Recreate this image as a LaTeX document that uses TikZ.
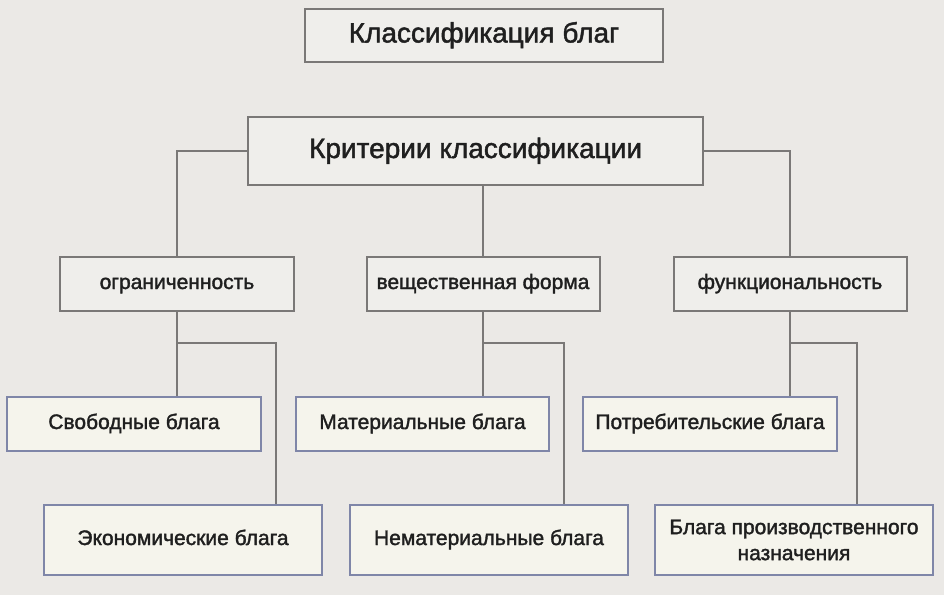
\documentclass[tikz,border=0pt]{standalone}
\usepackage{fontspec}
\setmainfont{Liberation Sans}[FakeBold=1.6]
\usetikzlibrary{positioning}

\definecolor{paperGray}{HTML}{EBE9E6}
\definecolor{wireGray}{HTML}{7A7877}
\definecolor{upperFill}{HTML}{EFEEEB}
\definecolor{lowerEdge}{HTML}{7F86A8}
\definecolor{lowerFill}{HTML}{F5F4EC}
\definecolor{inkGray}{HTML}{1F1F1F}

\newcommand{\wireWidth}{2}
\newcommand{\upperRowY}{284}
\newcommand{\lowerRowY}{424}
\newcommand{\bottomRowY}{540}
\newcommand{\forkY}{343}
\newcommand{\ogrDropX}{276}
\newcommand{\veshDropX}{564}
\newcommand{\funcDropX}{857}

\tikzset{
  headbox/.style={draw=wireGray, fill=upperFill, line width=\wireWidth, inner sep=0pt, text=inkGray},
  bigtext/.style={font=\fontsize{28}{32}\selectfont, text height=20, text depth=6},
  critbox/.style={headbox, minimum height=54, text height=15, text depth=5},
  goodbox/.style={draw=lowerEdge, fill=lowerFill, line width=\wireWidth, inner sep=0pt, text=inkGray, minimum width=254, minimum height=54, text height=15, text depth=5},
  wire/.style={draw=wireGray, line width=\wireWidth}
}

\begin{document}
\begin{tikzpicture}[x=1pt, y=-1pt, font=\fontsize{21}{26}\selectfont]
        % Background
        \fill[paperGray] (0,0) rectangle (944,595);

        % Heading
        \node[headbox, bigtext, minimum width=358, minimum height=53] (title) at (484,35.5) {Классификация благ};
        \node[headbox, bigtext, minimum width=455, minimum height=68] (crit) at (475.5,151) {Критерии классификации};

        % Criteria
        \node[critbox, minimum width=234] (ogr) at (177,\upperRowY) {ограниченность};
        \node[critbox, minimum width=233] (vesh) at (483,\upperRowY) {вещественная форма};
        \node[critbox, minimum width=233] (func) at (790,\upperRowY) {функциональность};

        % Goods
        \node[goodbox] (svob) at (134,\lowerRowY) {Свободные блага};
        \node[goodbox, minimum width=253] (mat) at (422.5,\lowerRowY) {Материальные блага};
        \node[goodbox] (potr) at (710,\lowerRowY) {Потребительские блага};
        \node[goodbox, minimum width=278, minimum height=70] (econ) at (183,\bottomRowY) {Экономические блага};
        \node[goodbox, minimum width=278, minimum height=70] (nemat) at (489,\bottomRowY) {Нематериальные блага};
        \node[goodbox, minimum width=278, minimum height=70, align=center, text height=, text depth=] (proizv) at (794,\bottomRowY) {Блага производственного\\назначения};

        % Draw criteria links
        \draw[wire] (crit.west) -| (ogr.north);
        \draw[wire] (crit.east) -| (func.north);
        \draw[wire] (crit.south -| vesh.north) -- (vesh.north);

        % Draw goods links
        \draw[wire] (ogr.south) -- (ogr.south |- svob.north);
        \draw[wire] (ogr.south |- 0,\forkY) -| (\ogrDropX,0 |- econ.north);
        \draw[wire] (vesh.south) -- (vesh.south |- mat.north);
        \draw[wire] (vesh.south |- 0,\forkY) -| (\veshDropX,0 |- nemat.north);
        \draw[wire] (func.south) -- (func.south |- potr.north);
        \draw[wire] (func.south |- 0,\forkY) -| (\funcDropX,0 |- proizv.north);
    \end{tikzpicture}
\end{document}
